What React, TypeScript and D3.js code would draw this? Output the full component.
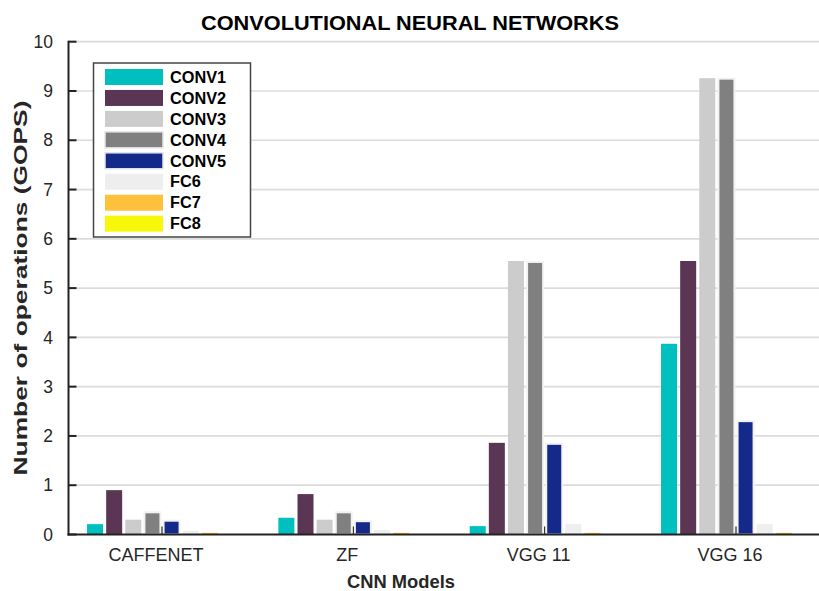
import React from "react";
import * as d3 from "d3";

const categories = ["CAFFENET", "ZF", "VGG 11", "VGG 16"];
const seriesNames = ["CONV1", "CONV2", "CONV3", "CONV4", "CONV5", "FC6", "FC7", "FC8"];
const conv1 = [0.21, 0.34, 0.17, 3.87];
const conv2 = [0.9, 0.82, 1.86, 5.55];
const conv3 = [0.3, 0.3, 5.55, 9.26];
const conv4 = [0.45, 0.45, 5.53, 9.25];
const conv5 = [0.28, 0.27, 1.84, 2.3];
const fc6 = [0.075, 0.09, 0.21, 0.21];
const fc7 = [0.034, 0.034, 0.034, 0.034];
const fc8 = [0.008, 0.008, 0.008, 0.008];
const seriesValues = [conv1, conv2, conv3, conv4, conv5, fc6, fc7, fc8];
const colors = ["#00BFBF", "#5A3554", "#CCCCCC", "#808080", "#142A8A", "#EEEEEE", "#FFC13B", "#F7F70A"];
const edged = [false, false, false, true, true, false, false, false];
const yTicks = [0, 1, 2, 3, 4, 5, 6, 7, 8, 9, 10];

const FONT = "'Liberation Sans', Arial, sans-serif";

export default function App() {
  const W = 819, H = 591;
  const x = d3.scaleLinear().domain([1, 4]).range([162, 736]);
  const y = d3.scaleLinear().domain([0, 10]).range([534.5, 41.7]);
  const unit = x(2) - x(1);
  const pitch = unit * 0.1;
  const bw = 16;
  const axisX = 68.5;

  return (
    <svg width={W} height={H} style={{ position: "absolute", left: 0, top: 0, background: "#fff" }} fontFamily={FONT}>
      <rect x={0} y={0} width={W} height={H} fill="#fff" />
      {/* gridlines */}
      {yTicks.filter(t => t > 0).map(t => (
        <line key={"g" + t} x1={axisX + 1} x2={W} y1={y(t)} y2={y(t)} stroke="#DCDCDC" strokeWidth={1.7} />
      ))}
      {/* x ticks */}
      {categories.map((c, i) => (
        <line key={"xt" + i} x1={x(i + 1)} x2={x(i + 1)} y1={y(0)} y2={y(0) - 8} stroke="#222" strokeWidth={2} />
      ))}
      {/* bars */}
      {seriesValues.map((vals, s) =>
        vals.map((v, i) => {
          const cx = x(i + 1) + (s - 3.5) * pitch;
          const top = y(v);
          return (
            <rect
              key={s + "-" + i}
              x={cx - bw / 2}
              y={top}
              width={bw}
              height={y(0) - top}
              fill={colors[s]}
              stroke={edged[s] ? "#F2F2F2" : "none"}
              strokeWidth={edged[s] ? 2 : 0}
            />
          );
        })
      )}
      {/* axes */}
      <line x1={axisX} x2={axisX} y1={y(10) - 1} y2={y(0) + 1} stroke="#222" strokeWidth={2} />
      <line x1={axisX - 1} x2={W} y1={y(0)} y2={y(0)} stroke="#222" strokeWidth={2} />
      {yTicks.map(t => (
        <g key={"yt" + t}>
          <line x1={axisX} x2={axisX + 8} y1={y(t)} y2={y(t)} stroke="#222" strokeWidth={2} />
          <text x={53} y={y(t)} dy="0.35em" textAnchor="end" fontSize={17.5} fill="#262626">{t}</text>
        </g>
      ))}
      {categories.map((c, i) => (
        <text key={"xl" + i} x={x(i + 1) - 6} y={561} textAnchor="middle" fontSize={18} fill="#262626">{c}</text>
      ))}
      {/* labels */}
      <text x={410} y={30} textAnchor="middle" fontSize={19.5} fontWeight="bold" fill="#000"
        textLength={418} lengthAdjust="spacingAndGlyphs">CONVOLUTIONAL NEURAL NETWORKS</text>
      <text x={401} y={588} textAnchor="middle" fontSize={17.5} fontWeight="bold" fill="#262626"
        textLength={108} lengthAdjust="spacingAndGlyphs">CNN Models</text>
      <text
        transform="translate(27,288) rotate(-90)"
        textAnchor="middle"
        fontSize={19}
        fontWeight="bold"
        fill="#262626"
        textLength={375}
        lengthAdjust="spacingAndGlyphs"
      >
        Number of operations (GOPS)
      </text>
      {/* legend */}
      <g>
        <rect x={93.5} y={63} width={157} height={174} fill="#fff" stroke="#444" strokeWidth={1.5} />
        {seriesNames.map((n, s) => {
          const ty = 69 + s * 20.95;
          return (
            <g key={"lg" + s}>
              <rect x={105} y={ty} width={58} height={16} fill={colors[s]}
                stroke={edged[s] ? "#E6E6E6" : "none"} strokeWidth={edged[s] ? 1.5 : 0} />
              <text x={170} y={ty + 13.7} fontSize={16.3} fontWeight="bold" fill="#000">{n}</text>
            </g>
          );
        })}
      </g>
    </svg>
  );
}
